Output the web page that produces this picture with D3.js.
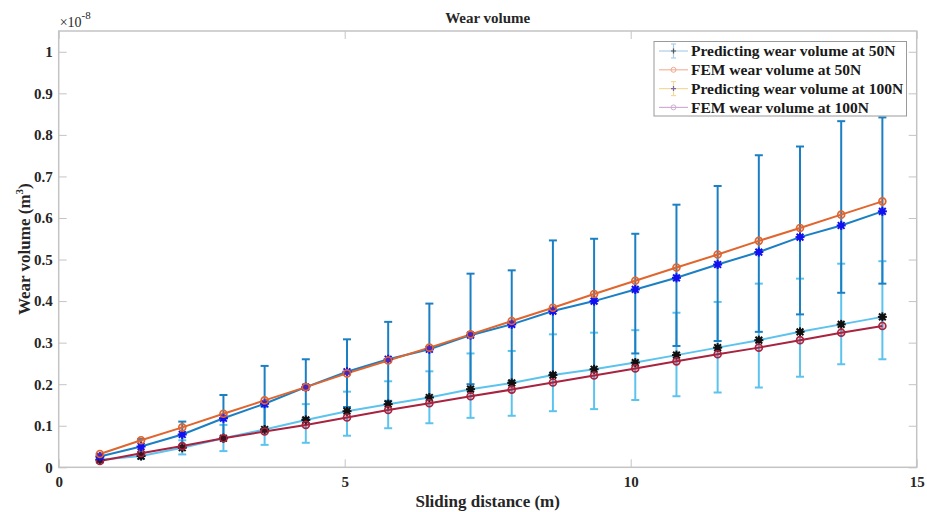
<!DOCTYPE html>
<html>
<head>
<meta charset="utf-8">
<script src="https://cdn.jsdelivr.net/npm/d3@7"></script>
<style>
  body { margin: 0; background: #fff; }
  text { font-family: "Liberation Serif", "DejaVu Serif", serif; font-weight: bold; }
</style>
</head>
<body>
<div id="chart"></div>
<script>
// Sliding distance (m)
const distance = [0.72, 1.44, 2.16, 2.88, 3.6, 4.32, 5.04, 5.76, 6.48, 7.2, 7.92, 8.64, 9.36, 10.08, 10.8, 11.52, 12.24, 12.96, 13.68, 14.4];

// Wear volume, units of 1e-8 m^3
const pred50 = [0.026, 0.050, 0.079, 0.118, 0.153, 0.193, 0.230, 0.260, 0.284, 0.318, 0.344, 0.376, 0.400, 0.428, 0.456, 0.488, 0.518, 0.554, 0.582, 0.616];
const pred50Hi = [0.032, 0.068, 0.110, 0.174, 0.244, 0.260, 0.308, 0.350, 0.394, 0.466, 0.474, 0.546, 0.550, 0.562, 0.632, 0.677, 0.751, 0.772, 0.833, 0.842];
const pred50Lo = [0.020, 0.036, 0.052, 0.072, 0.092, 0.118, 0.145, 0.160, 0.170, 0.200, 0.207, 0.226, 0.236, 0.274, 0.292, 0.304, 0.326, 0.368, 0.420, 0.442];
const fem50 = [0.032, 0.065, 0.096, 0.129, 0.161, 0.193, 0.226, 0.257, 0.288, 0.320, 0.352, 0.384, 0.417, 0.449, 0.481, 0.512, 0.545, 0.576, 0.608, 0.640];

const pred100 = [0.018, 0.027, 0.047, 0.070, 0.091, 0.114, 0.135, 0.152, 0.168, 0.188, 0.203, 0.222, 0.236, 0.252, 0.270, 0.288, 0.306, 0.326, 0.344, 0.362];
const pred100Hi = [0.024, 0.036, 0.065, 0.102, 0.145, 0.152, 0.182, 0.207, 0.231, 0.274, 0.280, 0.320, 0.324, 0.330, 0.372, 0.398, 0.442, 0.454, 0.490, 0.496];
const pred100Lo = [0.012, 0.020, 0.031, 0.039, 0.054, 0.059, 0.076, 0.094, 0.106, 0.119, 0.124, 0.135, 0.140, 0.162, 0.171, 0.180, 0.192, 0.218, 0.248, 0.260];
const fem100 = [0.015, 0.034, 0.051, 0.070, 0.086, 0.102, 0.120, 0.138, 0.154, 0.171, 0.187, 0.204, 0.221, 0.238, 0.255, 0.272, 0.288, 0.306, 0.324, 0.340];

const xTicks = [0, 5, 10, 15];
const yTicks = [0, 0.1, 0.2, 0.3, 0.4, 0.5, 0.6, 0.7, 0.8, 0.9, 1];

const legendLabels = [
  "Predicting wear volume at 50N",
  "FEM wear volume at 50N",
  "Predicting wear volume at 100N",
  "FEM wear volume at 100N"
];

const width = 927, height = 512;
const margin = { left: 58.7, right: 10.3, top: 31, bottom: 44.7 };

const svg = d3.select("#chart").append("svg")
  .attr("width", width)
  .attr("height", height);

const x = d3.scaleLinear().domain([0, 15]).range([margin.left, width - margin.right]);
const y = d3.scaleLinear().domain([0, 1.05]).range([height - margin.bottom, margin.top]);

const axisColor = "#c4c4c4";
const textColor = "#262626";

// box + ticks (matlab style, inward ticks on all sides)
const axes = svg.append("g");
axes.append("rect")
  .attr("x", x(0)).attr("y", y(1.05))
  .attr("width", x(15) - x(0)).attr("height", y(0) - y(1.05))
  .attr("fill", "none").attr("stroke", axisColor).attr("stroke-width", 1.5);

const xb = axes.append("g").attr("transform", `translate(0,${y(0)})`)
  .call(d3.axisBottom(x).tickValues(xTicks).tickSizeInner(-8).tickSizeOuter(0).tickPadding(9).tickFormat(d3.format("d")));
const xt = axes.append("g").attr("transform", `translate(0,${y(1.05)})`)
  .call(d3.axisTop(x).tickValues(xTicks).tickSizeInner(-8).tickSizeOuter(0).tickFormat(""));
const yl = axes.append("g").attr("transform", `translate(${x(0)},0)`)
  .call(d3.axisLeft(y).tickValues(yTicks).tickSizeInner(-8).tickSizeOuter(0).tickPadding(6).tickFormat(d => d === 0 || d === 1 ? d3.format("d")(d) : d3.format(".1f")(d)));
const yr = axes.append("g").attr("transform", `translate(${x(15)},0)`)
  .call(d3.axisRight(y).tickValues(yTicks).tickSizeInner(-8).tickSizeOuter(0).tickFormat(""));

[xb, xt, yl, yr].forEach(g => {
  g.select(".domain").remove();
  g.selectAll(".tick line").attr("stroke", axisColor).attr("stroke-width", 1);
  g.selectAll(".tick text").attr("fill", textColor).style("font-size", "15px");
});

// labels
svg.append("text")
  .attr("x", (x(0) + x(15)) / 2).attr("y", 23)
  .attr("text-anchor", "middle").attr("fill", textColor)
  .style("font-size", "15px").text("Wear volume");

svg.append("text")
  .attr("x", (x(0) + x(15)) / 2).attr("y", 507)
  .attr("text-anchor", "middle").attr("fill", textColor)
  .style("font-size", "17px").text("Sliding distance (m)");

const ylab = svg.append("text")
  .attr("transform", `translate(30,${(y(0) + y(1.05)) / 2}) rotate(-90)`)
  .attr("text-anchor", "middle").attr("fill", textColor)
  .style("font-size", "17px");
ylab.append("tspan").text("Wear volume (m");
ylab.append("tspan").attr("dy", -7).style("font-size", "11px").text("3");
ylab.append("tspan").attr("dy", 7).text(")");

const expo = svg.append("text")
  .attr("x", x(0) + 1).attr("y", 27)
  .attr("fill", textColor).style("font-size", "14px").style("font-weight", "normal");
expo.append("tspan").text("×10");
expo.append("tspan").attr("dy", -8).style("font-size", "11px").text("-8");

// helpers
function errorBars(g, vals, lo, hi, color) {
  const d = distance.map((dx, i) => ({ x: dx, lo: lo[i], hi: hi[i] }));
  g.selectAll(null).data(d).join("line")
    .attr("x1", p => x(p.x)).attr("x2", p => x(p.x))
    .attr("y1", p => y(p.lo)).attr("y2", p => y(p.hi))
    .attr("stroke", color).attr("stroke-width", 2);
  ["lo", "hi"].forEach(k => {
    g.selectAll(null).data(d).join("line")
      .attr("x1", p => x(p.x) - 4).attr("x2", p => x(p.x) + 4)
      .attr("y1", p => y(p[k])).attr("y2", p => y(p[k]))
      .attr("stroke", color).attr("stroke-width", 2);
  });
}

function seriesLine(g, vals, color) {
  g.append("path")
    .datum(distance.map((dx, i) => [dx, vals[i]]))
    .attr("d", d3.line().x(p => x(p[0])).y(p => y(p[1])))
    .attr("fill", "none").attr("stroke", color).attr("stroke-width", 2);
}

function stars(g, vals, color) {
  const s = 4.5;
  const pts = g.selectAll(null).data(distance.map((dx, i) => [dx, vals[i]])).join("g")
    .attr("transform", p => `translate(${x(p[0])},${y(p[1])})`);
  pts.append("circle").attr("r", 3).attr("fill", color);
  [[-s, 0, s, 0], [0, -s, 0, s], [-s * 0.75, -s * 0.75, s * 0.75, s * 0.75], [-s * 0.75, s * 0.75, s * 0.75, -s * 0.75]].forEach(c => {
    pts.append("line")
      .attr("x1", c[0]).attr("y1", c[1]).attr("x2", c[2]).attr("y2", c[3])
      .attr("stroke", color).attr("stroke-width", 2);
  });
}

function circles(g, vals, color) {
  g.selectAll(null).data(distance.map((dx, i) => [dx, vals[i]])).join("circle")
    .attr("cx", p => x(p[0])).attr("cy", p => y(p[1])).attr("r", 3.5)
    .attr("fill", color).attr("fill-opacity", 0.25)
    .attr("stroke", color).attr("stroke-width", 1.6);
}

const plot = svg.append("g");
errorBars(plot.append("g"), pred100, pred100Lo, pred100Hi, "#5cc3ef");
errorBars(plot.append("g"), pred50, pred50Lo, pred50Hi, "#1b7fc4");
seriesLine(plot, pred100, "#5cc3ef");
seriesLine(plot, fem100, "#a8233f");
seriesLine(plot, pred50, "#1b7fc4");
seriesLine(plot, fem50, "#e0652e");
stars(plot.append("g"), pred100, "#111");
circles(plot.append("g"), fem100, "#a8233f");
stars(plot.append("g"), pred50, "#1212f0");
circles(plot.append("g"), fem50, "#e0652e");

// legend (faded, as in the original)
const legend = svg.append("g").attr("transform", "translate(654,41.5)");
legend.append("rect")
  .attr("width", 252.5).attr("height", 74.5)
  .attr("fill", "#fff").attr("stroke", "#9a9a9a").attr("stroke-width", 1);

const legColors = ["#a9cde9", "#f2b79d", "#f5d99a", "#cfaed6"];
const legMarks = ["#555", "#f0a88a", "#7a6aa8", "#cfaed6"];
legendLabels.forEach((lab, i) => {
  const row = legend.append("g").attr("transform", `translate(0,${9.5 + i * 18.8})`);
  row.append("line").attr("x1", 5).attr("x2", 34).attr("y1", 0).attr("y2", 0)
    .attr("stroke", legColors[i]).attr("stroke-width", 1.2);
  if (i % 2 === 0) {
    row.append("line").attr("x1", 19.5).attr("x2", 19.5).attr("y1", -7).attr("y2", 7)
      .attr("stroke", legColors[i]).attr("stroke-width", 1.2);
    row.append("line").attr("x1", 17).attr("x2", 22).attr("y1", -7).attr("y2", -7)
      .attr("stroke", legColors[i]).attr("stroke-width", 1.2);
    row.append("line").attr("x1", 17).attr("x2", 22).attr("y1", 7).attr("y2", 7)
      .attr("stroke", legColors[i]).attr("stroke-width", 1.2);
    row.append("path").attr("d", "M17,0H22M19.5,-2.5V2.5")
      .attr("stroke", legMarks[i]).attr("stroke-width", 1.2);
  } else {
    row.append("circle").attr("cx", 19.5).attr("cy", 0).attr("r", 2.5)
      .attr("fill", "none").attr("stroke", legMarks[i]).attr("stroke-width", 1);
  }
  row.append("text").attr("x", 37).attr("y", 0).attr("dy", "0.35em")
    .attr("fill", "#1a1a1a").style("font-size", "15.5px").text(lab);
});
</script>
</body>
</html>
